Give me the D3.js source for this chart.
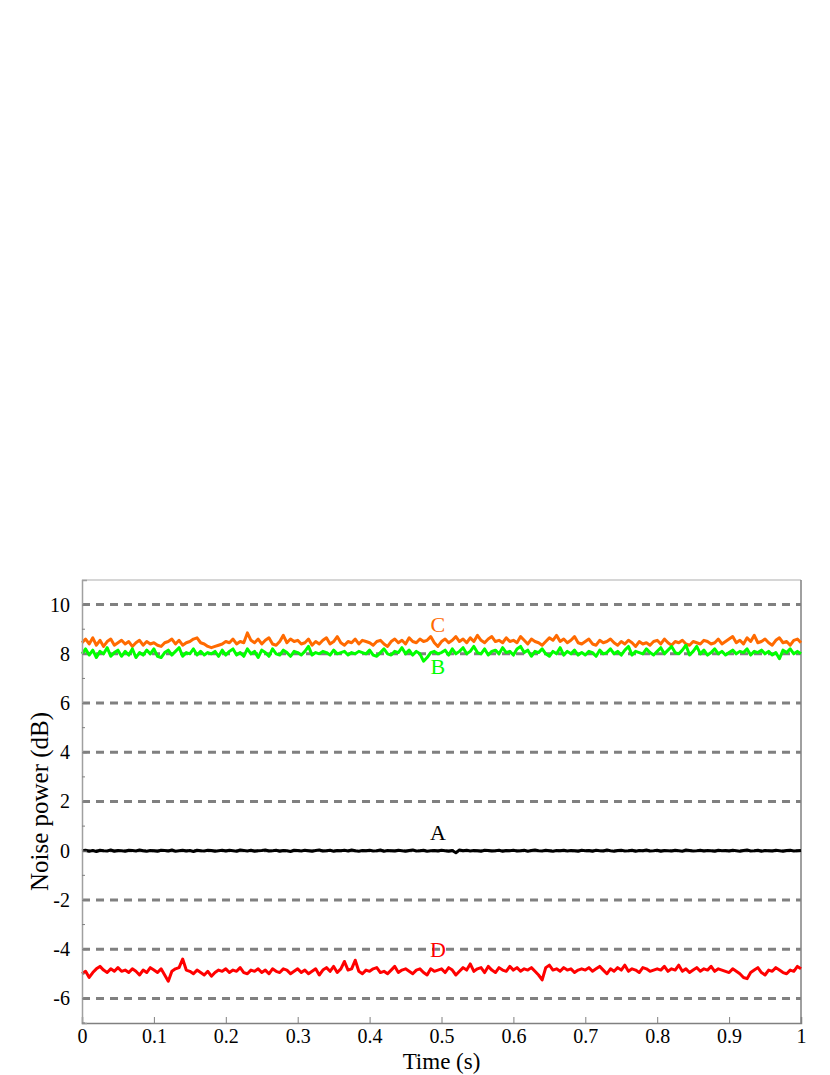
<!DOCTYPE html>
<html>
<head>
<meta charset="utf-8">
<script src="https://cdn.jsdelivr.net/npm/d3@7/dist/d3.min.js"></script>
<style>
  body { margin: 0; background: #fff; }
</style>
</head>
<body>
<script>
var width = 830;
var height = 1075;
var margin = { left: 82, right: 29, top: 580, bottom: 52 };
var serif = "'Liberation Serif', 'Times New Roman', serif";

// time samples (s)
var times = [0,0.005,0.01,0.015,0.02,0.025,0.03,0.035,0.04,0.045,0.05,0.055,0.06,0.065,0.07,0.075,0.08,0.085,0.09,0.095,
  0.1,0.105,0.11,0.115,0.12,0.125,0.13,0.135,0.14,0.145,0.15,0.155,0.16,0.165,0.17,0.175,0.18,0.185,0.19,0.195,
  0.2,0.205,0.21,0.215,0.22,0.225,0.23,0.235,0.24,0.245,0.25,0.255,0.26,0.265,0.27,0.275,0.28,0.285,0.29,0.295,
  0.3,0.305,0.31,0.315,0.32,0.325,0.33,0.335,0.34,0.345,0.35,0.355,0.36,0.365,0.37,0.375,0.38,0.385,0.39,0.395,
  0.4,0.405,0.41,0.415,0.42,0.425,0.43,0.435,0.44,0.445,0.45,0.455,0.46,0.465,0.47,0.475,0.48,0.485,0.49,0.495,
  0.5,0.505,0.51,0.515,0.52,0.525,0.53,0.535,0.54,0.545,0.55,0.555,0.56,0.565,0.57,0.575,0.58,0.585,0.59,0.595,
  0.6,0.605,0.61,0.615,0.62,0.625,0.63,0.635,0.64,0.645,0.65,0.655,0.66,0.665,0.67,0.675,0.68,0.685,0.69,0.695,
  0.7,0.705,0.71,0.715,0.72,0.725,0.73,0.735,0.74,0.745,0.75,0.755,0.76,0.765,0.77,0.775,0.78,0.785,0.79,0.795,
  0.8,0.805,0.81,0.815,0.82,0.825,0.83,0.835,0.84,0.845,0.85,0.855,0.86,0.865,0.87,0.875,0.88,0.885,0.89,0.895,
  0.9,0.905,0.91,0.915,0.92,0.925,0.93,0.935,0.94,0.945,0.95,0.955,0.96,0.965,0.97,0.975,0.98,0.985,0.99,0.995,1];

var seriesC = [8.45,8.6,8.4,8.65,8.35,8.55,8.3,8.5,8.6,8.35,8.45,8.55,8.4,8.5,8.3,8.45,8.55,8.35,8.5,8.4,
  8.45,8.35,8.3,8.45,8.5,8.6,8.4,8.55,8.35,8.45,8.5,8.6,8.65,8.45,8.4,8.3,8.25,8.3,8.35,8.4,
  8.5,8.45,8.6,8.4,8.5,8.45,8.85,8.55,8.45,8.6,8.4,8.55,8.65,8.4,8.35,8.5,8.75,8.45,8.6,8.5,
  8.55,8.4,8.45,8.6,8.35,8.5,8.4,8.55,8.65,8.4,8.5,8.7,8.45,8.35,8.5,8.45,8.6,8.4,8.55,8.5,
  8.45,8.35,8.5,8.55,8.4,8.3,8.5,8.6,8.45,8.55,8.4,8.65,8.5,8.45,8.6,8.5,8.55,8.7,8.45,8.3,
  8.5,8.6,8.45,8.55,8.7,8.5,8.6,8.45,8.65,8.5,8.75,8.55,8.45,8.6,8.7,8.5,8.55,8.45,8.65,8.5,
  8.55,8.45,8.7,8.55,8.4,8.6,8.5,8.45,8.35,8.5,8.65,8.55,8.75,8.5,8.6,8.45,8.55,8.7,8.45,8.4,
  8.5,8.6,8.4,8.35,8.55,8.45,8.5,8.6,8.45,8.35,8.5,8.4,8.55,8.45,8.3,8.5,8.4,8.45,8.35,8.5,
  8.55,8.4,8.6,8.45,8.35,8.5,8.45,8.55,8.4,8.35,8.5,8.45,8.4,8.55,8.5,8.4,8.45,8.6,8.4,8.5,
  8.6,8.7,8.45,8.55,8.4,8.65,8.5,8.75,8.45,8.5,8.6,8.45,8.35,8.55,8.65,8.45,8.5,8.35,8.55,8.6,8.45];

var seriesB = [8.0,8.2,7.95,8.15,7.85,8.1,8.0,8.25,7.9,8.05,8.15,7.9,8.1,7.95,8.2,7.85,8.05,7.95,8.15,8.0,
  8.2,7.9,7.85,8.05,8.15,7.95,8.1,8.25,7.9,8.05,8.0,8.2,7.95,8.1,7.95,8.05,8.0,8.1,7.9,8.15,
  7.95,8.1,8.2,7.95,8.05,7.9,8.2,8.0,8.1,7.85,8.15,8.05,7.9,8.2,8.0,7.95,8.15,8.05,7.9,8.1,
  8.05,7.95,8.1,8.3,7.95,8.05,8.0,8.1,8.05,7.95,8.15,8.0,8.05,8.1,7.95,8.05,8.0,8.1,8.05,8.0,
  8.15,7.95,7.9,8.05,8.2,8.0,7.95,8.1,8.05,8.25,8.0,8.15,7.95,8.1,8.0,7.7,7.85,8.05,8.1,8.0,
  8.05,8.15,7.95,8.2,8.0,8.1,8.25,8.0,8.1,8.3,8.05,8.0,8.2,7.95,8.1,8.15,8.0,8.25,8.05,8.1,
  7.95,8.2,8.3,8.05,8.15,7.9,8.1,8.05,8.2,8.0,7.9,8.1,8.0,8.25,7.95,8.1,8.0,8.15,7.95,8.05,
  7.95,8.1,8.05,7.9,8.15,8.0,8.05,8.2,8.0,8.1,7.95,8.15,8.3,7.95,8.1,8.05,8.0,8.2,8.05,7.95,
  8.1,8.25,8.0,8.15,8.3,8.05,8.0,8.15,8.35,7.95,8.1,8.3,8.0,8.15,7.95,8.05,8.2,8.0,8.1,7.95,
  8.05,8.15,8.0,8.1,8.05,8.2,7.95,8.1,8.05,8.15,8.0,8.1,7.95,8.05,7.8,8.15,8.05,8.2,8.0,8.1,8.0];

var seriesA = [0,0.02,-0.02,0.01,-0.03,0.02,0,-0.01,0.03,-0.02,0.01,0,-0.02,0.02,0.01,-0.01,0.03,0,-0.02,0.01,
  0,-0.02,0.02,0.01,-0.01,0.03,-0.02,0,0.02,-0.01,0.01,-0.03,0.02,0,-0.01,0.02,0.01,-0.02,0,0.02,
  -0.01,0.02,0,-0.02,0.03,0.01,-0.01,0.02,-0.02,0,0.01,0.03,-0.01,0,0.02,-0.02,0.01,0,-0.03,0.02,
  0.01,-0.01,0.02,0,-0.02,0.01,0.03,-0.01,0,0.02,-0.02,0.01,0,0.02,-0.01,0.03,0,-0.02,0.01,0,
  0.02,-0.01,0,0.03,-0.02,0.01,0,-0.01,0.02,0,-0.02,0.01,0.03,-0.01,0,0.02,-0.02,0,0.01,-0.01,
  0.02,0,-0.02,0.01,-0.08,0.03,0,0.02,-0.01,0.01,0,-0.02,0.02,0.01,-0.01,0,0.02,-0.02,0.01,0,
  0.02,-0.01,0,0.02,-0.02,0.01,0.03,0,-0.01,0.02,0,-0.02,0.01,0,0.02,-0.01,0.01,0,-0.02,0.02,
  0,0.01,-0.02,0.02,0,-0.01,0.03,0,-0.02,0.01,0.02,-0.01,0,0.02,-0.02,0.01,0,0.03,-0.01,0,
  0.02,-0.02,0.01,0,-0.01,0.02,0,-0.02,0.03,0.01,-0.01,0,0.02,-0.01,0.01,0,-0.02,0.02,0,0.01,
  -0.01,0.02,0,-0.02,0.01,0.03,-0.01,0,0.02,-0.02,0.01,0,-0.01,0.02,0,-0.02,0.01,0.02,-0.01,0,0.01];

var seriesD = [-5.0,-4.9,-5.15,-4.95,-4.8,-4.7,-4.85,-4.95,-4.8,-4.9,-4.75,-4.9,-4.85,-4.95,-4.8,-4.9,-5.05,-4.85,-4.95,-4.75,
  -4.85,-4.95,-4.8,-5.05,-5.3,-4.9,-4.8,-4.75,-4.4,-4.85,-4.9,-5.0,-4.85,-4.95,-5.05,-4.9,-5.1,-4.95,-4.85,-4.9,
  -4.8,-4.95,-4.85,-4.9,-4.75,-4.95,-5.0,-4.85,-4.9,-4.8,-4.95,-4.85,-5.0,-4.8,-4.9,-4.95,-4.8,-4.85,-5.0,-4.9,
  -4.8,-4.95,-4.85,-5.0,-4.9,-4.8,-5.05,-4.85,-4.75,-4.9,-4.7,-4.95,-4.8,-4.5,-4.85,-4.8,-4.45,-4.9,-5.0,-4.85,
  -4.9,-4.8,-4.75,-4.95,-4.9,-5.0,-4.85,-4.7,-4.95,-4.85,-4.8,-4.9,-5.0,-4.85,-4.8,-4.95,-5.05,-4.8,-4.9,-4.85,
  -4.8,-4.95,-4.75,-4.85,-5.05,-4.9,-4.75,-4.85,-4.6,-4.9,-4.8,-4.75,-4.95,-4.7,-4.85,-4.95,-4.75,-4.85,-4.9,-4.7,
  -4.85,-4.75,-4.9,-4.8,-4.85,-4.75,-4.9,-5.05,-5.25,-4.75,-4.65,-4.85,-4.8,-4.9,-4.75,-4.85,-4.8,-4.95,-4.85,-4.8,
  -4.85,-4.75,-4.9,-4.8,-4.7,-4.85,-5.0,-4.8,-4.9,-4.75,-4.85,-4.65,-4.9,-4.8,-4.85,-4.95,-4.75,-4.8,-4.9,-4.85,
  -4.8,-4.85,-4.7,-4.9,-4.8,-4.85,-4.65,-4.9,-4.8,-4.95,-4.85,-4.75,-4.9,-4.8,-4.85,-4.7,-4.9,-4.8,-4.85,-4.9,
  -4.95,-4.8,-4.9,-5.0,-5.15,-5.2,-4.95,-4.85,-4.75,-4.95,-5.05,-4.85,-4.9,-4.75,-4.85,-4.95,-5.0,-4.85,-4.9,-4.7,-4.8];

var xTicks = [0,0.1,0.2,0.3,0.4,0.5,0.6,0.7,0.8,0.9,1];
var yTicks = [-6,-4,-2,0,2,4,6,8,10];
var yMinorTicks = [-7,-5,-3,-1,1,3,5,7,9];
var gridLines = [-6,-4,-2,0,2,4,6,8,10];

var series = [
  { name: "C", values: seriesC, color: "#ff6a00", labelY: 8.9 },
  { name: "B", values: seriesB, color: "#00ff00", labelY: 7.2 },
  { name: "A", values: seriesA, color: "#000000", labelY: 0.45 },
  { name: "D", values: seriesD, color: "#ff0000", labelY: -4.3 }
];

var svg = d3.select("body").append("svg").attr("width", width).attr("height", height);

var x = d3.scaleLinear().domain([0, 1]).range([margin.left, width - margin.right]);
var y = d3.scaleLinear().domain([-7, 11]).range([height - margin.bottom, margin.top]);

// dashed grid
svg.selectAll(".grid").data(gridLines).enter().append("line")
  .attr("x1", x(0)).attr("x2", x(1))
  .attr("y1", function (d) { return y(d); })
  .attr("y2", function (d) { return y(d); })
  .attr("stroke", "#808080")
  .attr("stroke-width", 3)
  .attr("stroke-dasharray", "8,6");

// frame: top and right
svg.append("line").attr("x1", x(0)).attr("x2", x(1)).attr("y1", y(11)).attr("y2", y(11))
  .attr("stroke", "#c8c8c8").attr("stroke-width", 1.5);
svg.append("line").attr("x1", x(1)).attr("x2", x(1)).attr("y1", y(11)).attr("y2", y(-7))
  .attr("stroke", "#808080").attr("stroke-width", 1.5);

// lines
var line = d3.line()
  .x(function (d, i) { return x(times[i]); })
  .y(function (d) { return y(d); });

series.forEach(function (s) {
  svg.append("path")
    .attr("d", line(s.values))
    .attr("fill", "none")
    .attr("stroke", s.color)
    .attr("stroke-width", 3)
    .attr("stroke-linejoin", "round");
  svg.append("text")
    .attr("x", x(0.495))
    .attr("y", y(s.labelY))
    .attr("text-anchor", "middle")
    .style("font-family", serif)
    .style("font-size", "22px")
    .attr("fill", s.color)
    .text(s.name);
});

// x axis
var xAxis = svg.append("g")
  .attr("transform", "translate(0," + y(-7) + ")")
  .call(d3.axisBottom(x).tickValues(xTicks).tickSize(-6).tickPadding(6)
    .tickFormat(function (d) { return String(+d.toFixed(1)); }));
xAxis.attr("font-family", serif);
xAxis.select(".domain").attr("stroke", "#808080").attr("stroke-width", 1.5);
xAxis.selectAll(".tick line").attr("stroke", "#808080");
xAxis.selectAll("text").attr("fill", "#000")
  .style("font-family", serif).style("font-size", "20px");

// y axis
var yAxis = svg.append("g")
  .attr("transform", "translate(" + x(0) + ",0)")
  .call(d3.axisLeft(y).tickValues(yTicks).tickSize(-5).tickPadding(12)
    .tickFormat(function (d) { return String(d); }));
yAxis.attr("font-family", serif);
yAxis.select(".domain").attr("stroke", "#a0a0a0").attr("stroke-width", 1.5);
yAxis.selectAll(".tick line").attr("stroke", "#808080");
yAxis.selectAll("text").attr("fill", "#000")
  .style("font-family", serif).style("font-size", "20px");

svg.selectAll(".yminor").data(yMinorTicks).enter().append("line")
  .attr("x1", x(0)).attr("x2", x(0) + 3)
  .attr("y1", function (d) { return y(d); })
  .attr("y2", function (d) { return y(d); })
  .attr("stroke", "#808080");

// titles
svg.append("text")
  .attr("x", (x(0) + x(1)) / 2)
  .attr("y", 1069)
  .attr("text-anchor", "middle")
  .style("font-family", serif)
  .style("font-size", "23px")
  .text("Time (s)");

svg.append("text")
  .attr("transform", "translate(48," + y(2) + ") rotate(-90)")
  .attr("text-anchor", "middle")
  .style("font-family", serif)
  .style("font-size", "25px")
  .text("Noise power (dB)");
</script>
</body>
</html>
